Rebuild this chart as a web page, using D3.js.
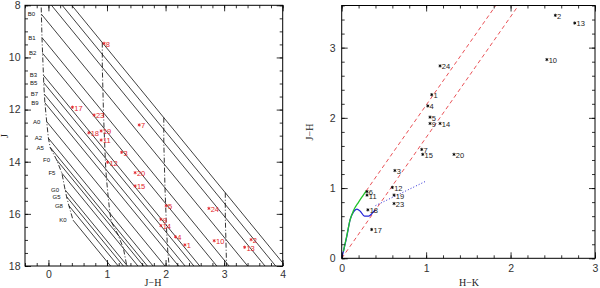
<!DOCTYPE html>
<html>
<head>
<meta charset="utf-8">
<script src="https://cdn.jsdelivr.net/npm/d3@7"></script>
<style>
  body { margin: 0; background: #fff; }
  text { font-family: "Liberation Sans", Arial, sans-serif; }
</style>
</head>
<body>
<svg id="chart" width="600" height="288"></svg>
<script>
// main sequence (J-H, J) with spectral types
const msType = ["", "", "", "B0", "B1", "B2", "B3", "B5", "B7", "B9", "A0", "A2", "A5", "F0", "F5", "G0", "G5", "G8", "K0"];
const msJH = [-0.13, -0.13, -0.13, -0.12, -0.11, -0.10, -0.085, -0.08, -0.07, -0.06, -0.03, 0.0, 0.03, 0.14, 0.23, 0.285, 0.31, 0.35, 0.42];
const msJ = [6.55, 7.0, 7.5, 8.34, 9.24, 9.84, 10.68, 10.97, 11.41, 11.74, 12.46, 13.1, 13.45, 13.93, 14.44, 15.08, 15.34, 15.69, 16.24];

// reddening per 10 mag of A_V
const avSteps = [1, 2, 3];
const redStepJH = 1.05;
const redStepJ = 2.88;

// sources
const starId = [1, 2, 3, 4, 5, 6, 7, 8, 9, 10, 11, 12, 13, 14, 15, 17, 18, 19, 20, 23, 24];
const starJH = [2.33, 3.46, 1.25, 2.17, 2.01, 0.95, 1.55, 0.95, 1.92, 2.83, 0.90, 1.01, 3.35, 1.92, 1.48, 0.41, 0.69, 0.90, 1.48, 0.78, 2.74];
const starJ = [17.19, 16.99, 13.64, 16.88, 15.69, null, 12.59, 9.46, 16.21, 17.03, 13.17, 14.02, 17.28, 16.45, 14.93, 11.91, 12.89, 12.82, 14.42, 12.21, 15.79];
const starHK = [1.066, 2.53, 0.63, 1.02, 1.046, 0.30, 0.948, null, 1.046, 2.43, 0.30, 0.60, 2.76, 1.165, 0.96, 0.355, 0.31, 0.62, 1.33, 0.62, 1.165];

// colour-colour loci
const dwarfHK = [0, 0.03, 0.06, 0.10, 0.14, 0.18, 0.22, 0.27, 0.32, 0.36, 0.395];
const dwarfJH = [0, 0.15, 0.31, 0.55, 0.66, 0.70, 0.67, 0.60, 0.60, 0.64, 0.69];
const giantHK = [0.02, 0.06, 0.10, 0.14, 0.20, 0.25, 0.29];
const giantJH = [0.10, 0.32, 0.55, 0.68, 0.80, 0.89, 0.96];
const cttsHK = [0.40, 1.0];
const cttsJH = [0.75, 1.10];
const vecStartHK = [0, 0.29];
const vecStartJH = [0, 0.96];
const vecSlope = 1.72;

const red = "#e3262c";
const svg = d3.select("#chart");

const xL = d3.scaleLinear().domain([-0.4, 4]).range([25, 282.7]);
const yL = d3.scaleLinear().domain([8, 18]).range([5.3, 266]);
const xR = d3.scaleLinear().domain([0, 3]).range([341.7, 595]);
const yR = d3.scaleLinear().domain([0, 3.6]).range([258.3, 5.5]);

function frame(x, y, xMaj, xMin, yMaj, yMin, pad) {
  const g = svg.append("g");
  const [l, r] = x.range();
  const top = Math.min(...y.range()), bot = Math.max(...y.range());

  const ax = (gen, t, vals, size, fmt) => {
    const a = g.append("g").attr("transform", t)
      .call(gen.tickValues(vals).tickSize(-size).tickPadding(pad).tickFormat(fmt));
    a.select(".domain").remove();
    a.selectAll("line").attr("stroke", "#000").attr("stroke-width", 0.8);
    a.selectAll("text").attr("fill", "#333").attr("font-size", "10.5px");
  };
  ax(d3.axisBottom(x), `translate(0,${bot})`, xMin, 3, "");
  ax(d3.axisBottom(x), `translate(0,${bot})`, xMaj, 6, d3.format("d"));
  ax(d3.axisTop(x), `translate(0,${top})`, xMin, 3, "");
  ax(d3.axisTop(x), `translate(0,${top})`, xMaj, 6, "");
  ax(d3.axisLeft(y), `translate(${l},0)`, yMin, 3, "");
  ax(d3.axisLeft(y), `translate(${l},0)`, yMaj, 6, d3.format("d"));
  ax(d3.axisRight(y), `translate(${r},0)`, yMin, 3, "");
  ax(d3.axisRight(y), `translate(${r},0)`, yMaj, 6, "");

  g.append("rect").attr("x", l).attr("y", top).attr("width", r - l).attr("height", bot - top)
    .attr("fill", "none").attr("stroke", "#000").attr("stroke-width", 1);
  return g;
}

function clipFor(id, x, y) {
  const [l, r] = x.range();
  const top = Math.min(...y.range()), bot = Math.max(...y.range());
  svg.append("clipPath").attr("id", id).append("rect")
    .attr("x", l).attr("y", top).attr("width", r - l).attr("height", bot - top);
  return svg.append("g").attr("clip-path", `url(#${id})`);
}

// ---------- left panel: J vs J-H ----------
const left = clipFor("clipL", xL, yL);
const ms = msJH.map((v, i) => ({ jh: v, j: msJ[i], sp: msType[i] }));

// reddening lines from every main sequence point
left.selectAll("line.red").data(ms).join("line")
  .attr("x1", d => xL(d.jh)).attr("y1", d => yL(d.j))
  .attr("x2", d => xL(d.jh + 5 * redStepJH)).attr("y2", d => yL(d.j + 5 * redStepJ))
  .attr("stroke", "#000").attr("stroke-width", 0.75);

const msLine = d3.line().x(d => xL(d.jh)).y(d => yL(d.j));
[0, ...avSteps].forEach(k => {
  left.append("path")
    .attr("d", msLine(ms.map(d => ({ jh: d.jh + k * redStepJH, j: d.j + k * redStepJ }))))
    .attr("fill", "none").attr("stroke", "#000").attr("stroke-width", 0.8)
    .attr("stroke-dasharray", "5,2,1,2");
});

svg.append("g").selectAll("text").data(ms.filter(d => d.sp)).join("text")
  .attr("x", d => xL(d.jh) - 10).attr("y", d => yL(d.j) + 2.2)
  .attr("text-anchor", "middle").attr("font-size", "6px").attr("fill", "#111")
  .text(d => d.sp);

const stars = starId.map((id, i) => ({ id, jh: starJH[i], j: starJ[i], hk: starHK[i] }));
const ast = d3.symbol().type(d3.symbolAsterisk).size(7);

const sl = left.selectAll("g.s").data(stars.filter(d => d.j !== null)).join("g")
  .attr("transform", d => `translate(${xL(d.jh)},${yL(d.j)})`);
sl.append("path").attr("d", ast).attr("stroke", red).attr("stroke-width", 0.9).attr("fill", "none");
sl.append("text").attr("x", 1.8).attr("y", 3.4).attr("font-size", "7.5px").attr("fill", red).text(d => d.id);

frame(xL, yL, d3.range(0, 5), d3.range(-0.4, 4.01, 0.2), d3.range(8, 19, 2), d3.range(8, 18.01, 0.5), 4.5);

svg.append("text").attr("x", 153).attr("y", 286).attr("text-anchor", "middle")
  .attr("font-size", "10px").attr("fill", "#222").style("font-family", "Liberation Serif, serif").text("J\u2212H");
svg.append("text").attr("transform", "translate(8,136) rotate(-90)").attr("text-anchor", "middle")
  .attr("font-size", "10px").attr("fill", "#222").style("font-family", "Liberation Serif, serif").text("J");

// ---------- right panel: J-H vs H-K ----------
const right = clipFor("clipR", xR, yR);
const line2 = d3.line().x(d => xR(d[0])).y(d => yR(d[1]));

vecStartHK.forEach((h0, i) => {
  const j0 = vecStartJH[i];
  right.append("path")
    .attr("d", line2([[h0, j0], [h0 + (4 - j0) / vecSlope, 4]]))
    .attr("stroke", red).attr("stroke-width", 0.8).attr("stroke-dasharray", "4,3").attr("fill", "none");
});

right.append("path")
  .attr("d", line2(cttsHK.map((h, i) => [h, cttsJH[i]])))
  .attr("stroke", "#2b2bd6").attr("stroke-width", 1).attr("stroke-dasharray", "1,2").attr("fill", "none");

const smooth = d3.line().x(d => xR(d[0])).y(d => yR(d[1])).curve(d3.curveMonotoneX);
right.append("path").attr("d", smooth(dwarfHK.map((h, i) => [h, dwarfJH[i]])))
  .attr("stroke", "#2424d8").attr("stroke-width", 1.3).attr("fill", "none");
right.append("path").attr("d", smooth(giantHK.map((h, i) => [h, giantJH[i]])))
  .attr("stroke", "#22c22a").attr("stroke-width", 1.3).attr("fill", "none");

const sr = right.selectAll("g.s").data(stars.filter(d => d.hk !== null)).join("g")
  .attr("transform", d => `translate(${xR(d.hk)},${yR(d.jh)})`);
sr.append("path").attr("d", ast).attr("stroke", "#000").attr("stroke-width", 0.9).attr("fill", "none");
sr.append("text").attr("x", 1.8).attr("y", 3.4).attr("font-size", "7.5px").attr("fill", "#222").text(d => d.id);

frame(xR, yR, d3.range(0, 4), d3.range(0, 3.01, 0.2), d3.range(0, 4), d3.range(0, 3.61, 0.2), 6);

svg.append("text").attr("x", 469).attr("y", 286).attr("text-anchor", "middle")
  .attr("font-size", "10px").attr("fill", "#222").style("font-family", "Liberation Serif, serif").text("H\u2212K");
svg.append("text").attr("transform", "translate(313,132) rotate(-90)").attr("text-anchor", "middle")
  .attr("font-size", "10px").attr("fill", "#222").style("font-family", "Liberation Serif, serif").text("J\u2212H");
</script>
</body>
</html>
